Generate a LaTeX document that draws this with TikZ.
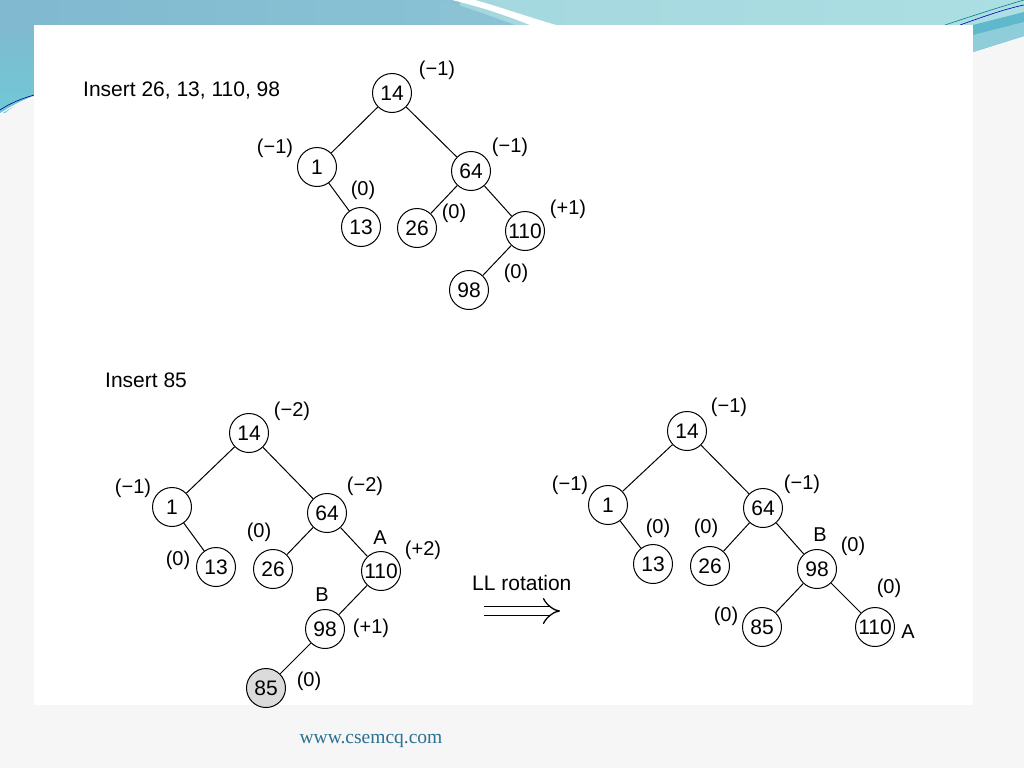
\documentclass[tikz,border=0pt]{standalone}
\usepackage{fontspec}
\setmainfont{Liberation Sans}
\newfontfamily\webfont{Liberation Serif}
\usetikzlibrary{arrows.meta}
\definecolor{bandL}{HTML}{80B9D0}
\definecolor{bandM}{HTML}{A4D8DF}
\definecolor{bandR}{HTML}{ACDFE3}
\definecolor{tealA}{HTML}{6FC9D6}
\definecolor{tealB}{HTML}{5FB8CC}
\definecolor{webc}{HTML}{2A7090}
\definecolor{pagebg}{HTML}{F6F6F6}
\newcommand\nd[1]{\makebox[0pt]{#1}}
\tikzset{
  tn/.style={circle,draw,line width=1pt,minimum size=39pt,inner sep=0pt,font=\fontsize{21}{21}\selectfont},
  bf/.style={inner sep=0pt,font=\fontsize{20}{20}\selectfont},
  ttl/.style={inner sep=0pt,anchor=west,font=\fontsize{21}{21}\selectfont},
  ed/.style={line width=1pt},
}
\begin{document}
\begin{tikzpicture}[x=1pt,y=-1pt]
\useasboundingbox (0,0) rectangle (1024,768);
% background
\fill[pagebg] (0,0) rectangle (1024,768);
\shade[left color=bandL,right color=bandL!70!bandM] (0,0) rectangle (520,25);
\shade[left color=bandM,right color=bandR] (460,0) rectangle (1024,25);
\fill[bandL!70!bandM] (440,0) .. controls (470,8) and (490,16) .. (515,25) -- (440,25) -- cycle;
\fill[white] (452,0) .. controls (485,8) and (510,17) .. (530,25) -- (556,25) .. controls (525,16) and (500,7) .. (475,0) -- cycle;
\shade[top color=bandL,bottom color=tealA] (0,25) rectangle (34,112) ;
\fill[pagebg] (0,118) .. controls (10,108) and (22,100) .. (34,96) -- (34,130) -- (0,130) -- cycle;
\draw[blue!60!black,line width=0.6pt] (0,110) .. controls (12,102) and (24,98) .. (34,95);
\draw[white,line width=1pt] (0,114) .. controls (12,106) and (24,100) .. (34,97);
\fill[tealB] (973,25) -- (1024,12) -- (1024,36) -- (973,52) -- cycle;
\fill[tealB!70!white] (973,35) -- (1024,22) -- (1024,36) -- (973,52) -- cycle;
\draw[teal,line width=0.6pt] (945,25) .. controls (975,15) and (1000,7) .. (1024,0);
\draw[blue!70!black,line width=0.6pt] (960,25) .. controls (985,16) and (1005,9) .. (1024,5);
\fill[white] (34,25) rectangle (973,705);

% ---------- Tree 1 ----------
\node[ttl] (t1) at (83,91) {Insert 26, 13, 110, 98};
\node[tn] (a14) at (392,93) {\nd{14}};
\node[tn] (a1) at (317,167) {\nd{1}};
\node[tn] (a64) at (471,171) {\nd{64}};
\node[tn] (a13) at (361,227) {\nd{13}};
\node[tn] (a26) at (417,228) {\nd{26}};
\node[tn] (a110) at (525,231) {\nd{110}};
\node[tn] (a98) at (469,290) {\nd{98}};
\draw[ed] (a14) -- (a1);
\draw[ed] (a14) -- (a64);
\draw[ed] (a1) -- (a13);
\draw[ed] (a64) -- (a26);
\draw[ed] (a64) -- (a110);
\draw[ed] (a110) -- (a98);
\node[bf] (ab14) at (437,70) {(−1)};
\node[bf] (ab1) at (275,148) {(−1)};
\node[bf] (ab64) at (510,147) {(−1)};
\node[bf] (ab13) at (363,190) {(0)};
\node[bf] (ab26) at (454,213) {(0)};
\node[bf] (ab110) at (568,209) {(+1)};
\node[bf] (ab98) at (516,273) {(0)};

% ---------- Tree 2 ----------
\node[ttl] (t2) at (105,380) {Insert 85};
\node[tn] (b14) at (249,433) {\nd{14}};
\node[tn] (b1) at (172,507) {\nd{1}};
\node[tn] (b64) at (327,513) {\nd{64}};
\node[tn] (b13) at (216,567) {\nd{13}};
\node[tn] (b26) at (273,569) {\nd{26}};
\node[tn] (b110) at (381,571) {\nd{110}};
\node[tn] (b98) at (325,629) {\nd{98}};
\node[tn,fill=black!14] (b85) at (266,688) {\nd{85}};
\draw[ed] (b14) -- (b1);
\draw[ed] (b14) -- (b64);
\draw[ed] (b1) -- (b13);
\draw[ed] (b64) -- (b26);
\draw[ed] (b64) -- (b110);
\draw[ed] (b110) -- (b98);
\draw[ed] (b98) -- (b85);
\node[bf] (bb14) at (292,411) {(−2)};
\node[bf] (bb1) at (133,488) {(−1)};
\node[bf] (bb64) at (365,486) {(−2)};
\node[bf] (bb26) at (259,532) {(0)};
\node[bf] (bA) at (380,538) {A};
\node[bf] (bb110) at (423,550) {(+2)};
\node[bf] (bb13) at (178,560) {(0)};
\node[bf] (bB) at (322,595) {B};
\node[bf] (bb98) at (371,628) {(+1)};
\node[bf] (bb85) at (309,681) {(0)};

% ---------- arrow ----------
\node[ttl] (ll) at (472,583) {LL rotation};
\coordinate (arS) at (484,611);
\coordinate (arE) at (560,611);
\draw[double,double distance=8pt,line width=1.3pt,-{Implies[length=10pt]}] (arS) -- (arE);

% ---------- Tree 3 ----------
\node[tn] (c14) at (687,431) {\nd{14}};
\node[tn] (c1) at (608,505) {\nd{1}};
\node[tn] (c64) at (763,508) {\nd{64}};
\node[tn] (c13) at (653,564) {\nd{13}};
\node[tn] (c26) at (710,566) {\nd{26}};
\node[tn] (c98) at (817,569) {\nd{98}};
\node[tn] (c85) at (762,627) {\nd{85}};
\node[tn] (c110) at (875,627) {\nd{110}};
\draw[ed] (c14) -- (c1);
\draw[ed] (c14) -- (c64);
\draw[ed] (c1) -- (c13);
\draw[ed] (c64) -- (c26);
\draw[ed] (c64) -- (c98);
\draw[ed] (c98) -- (c85);
\draw[ed] (c98) -- (c110);
\node[bf] (cb14) at (729,407) {(−1)};
\node[bf] (cb1) at (570,485) {(−1)};
\node[bf] (cb64) at (802,484) {(−1)};
\node[bf] (cb13) at (658,528) {(0)};
\node[bf] (cb26) at (706,528) {(0)};
\node[bf] (cB) at (820,535) {B};
\node[bf] (cb98) at (853,546) {(0)};
\node[bf] (cb110) at (889,588) {(0)};
\node[bf] (cb85) at (726,616) {(0)};
\node[bf] (cA) at (908,632) {A};

% footer
\node[inner sep=0pt,text=webc,font=\webfont\fontsize{19.5}{19.5}\selectfont] (web) at (371,741) {www.csemcq.com};
\end{tikzpicture}
\end{document}
